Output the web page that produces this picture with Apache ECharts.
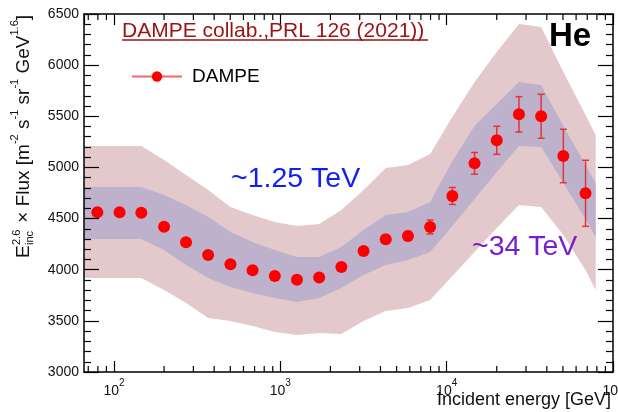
<!DOCTYPE html>
<html><head><meta charset="utf-8">
<script src="https://cdn.jsdelivr.net/npm/echarts@6/dist/echarts.min.js"></script>
<style>html,body{margin:0;padding:0;background:#fff}#c{width:618px;height:412px}</style>
</head><body><div id="c"></div>
<script>
// ---- data ----
const energies = [79.4,108,146,200,271,368,501,681,926,1259,1712,2328,3165,4303,5851,7956,10818,14710,20002,27197,36981,50285,68375];
const flux     = [4561,4561,4557,4420,4268,4144,4053,3994,3939,3903,3923,4027,4183,4297,4330,4418,4721,5040,5265,5519,5500,5112,4747];
const fluxErr  = [20,20,20,20,20,20,20,20,20,20,25,30,35,40,45,68,83,106,137,173,215,261,323];
const bandEnergies = [66,79.4,108,146,200,271,368,501,681,926,1259,1712,2328,3165,4303,5851,7956,10818,14710,20002,27197,36981,50285,68375,78700];
const outerTop = [5210,5210,5210,5210,5073,4926,4779,4613,4535,4467,4427,4447,4584,4779,4994,5023,5131,5493,5835,6129,6402,6373,5933,5513,5317];
const outerBot = [3919,3919,3919,3919,3802,3675,3528,3499,3450,3391,3362,3381,3372,3499,3597,3626,3704,3939,4173,4408,4633,4613,4340,3997,3802];
const innerTop = [4809,4809,4809,4809,4731,4633,4516,4369,4271,4193,4124,4124,4222,4388,4535,4564,4662,5063,5405,5620,5835,5806,5405,5023,4848];
const innerBot = [4300,4300,4300,4300,4193,4046,3919,3831,3773,3724,3685,3724,3822,3948,4046,4095,4173,4427,4691,4955,5210,5200,4848,4496,4320];
const yTickValues = [3000,3500,4000,4500,5000,5500,6000,6500];
const xMinorTicks = [70,80,90,200,300,400,500,600,700,800,900,2000,3000,4000,5000,6000,7000,8000,9000,20000,30000,40000,50000,60000,70000,80000,90000];
const Y_MIN = 3000, Y_MAX = 6500, Y_STEP = 500, X_MIN = 66, X_MAX = 100000;

// ---- chart ----
const chart = echarts.init(document.getElementById('c'));
const FONT = 'Liberation Sans, Arial, sans-serif';
const tickStyle = {stroke: '#000', lineWidth: 1.2};

const xLabelFmt = v => {
  const l = Math.log10(v), e = Math.round(l);
  if (Math.abs(l - e) > 1e-6) return '';
  return '{b|10}{s|' + e + '}';
};

function bandSeries(name, top, bot, color, z) {
  return {
    type: 'custom', name, z, silent: true, clip: true,
    data: bandEnergies.map((e, i) => [e, bot[i], top[i]]),
    encode: {x: 0, y: [1, 2]},
    renderItem: (p, api) => {
      if (p.dataIndex !== 0) return null;
      const upper = bandEnergies.map((e, i) => api.coord([e, top[i]]));
      const lower = bandEnergies.map((e, i) => api.coord([e, bot[i]])).reverse();
      return {type: 'polygon', shape: {points: upper.concat(lower)}, style: {fill: color}};
    }
  };
}

const option = {
  animation: false,
  textStyle: {fontFamily: FONT},
  grid: {left: 84, right: 5, top: 14, bottom: 40, outerBoundsMode: 'none', containLabel: false},
  legend: {
    data: ['DAMPE'], left: 126, top: 62, itemWidth: 50, itemHeight: 13, itemGap: 8,
    textStyle: {fontSize: 19, color: '#000', fontFamily: FONT, padding: [0, 0, 0, 5]},
    lineStyle: {width: 2, color: '#f06868', opacity: 1},
    selectedMode: false
  },
  xAxis: [{
    type: 'log', min: X_MIN, max: X_MAX, position: 'bottom', z: 10,
    axisLine: {lineStyle: {color: '#000', width: 1.5}},
    axisTick: {show: true, inside: true, length: 11, lineStyle: {color: '#000', width: 1.2}},
    splitLine: {show: false},
    axisLabel: {formatter: xLabelFmt, margin: 6, color: '#000', showMinLabel: false,
      rich: {b: {fontSize: 14, fontFamily: FONT, color: '#111', lineHeight: 20, verticalAlign: 'bottom'},
             s: {fontSize: 10, fontFamily: FONT, color: '#111', lineHeight: 12, verticalAlign: 'top'}}}
  }, {
    type: 'log', min: X_MIN, max: X_MAX, position: 'top', z: 10,
    axisLine: {show: true, lineStyle: {color: '#000', width: 1.5}},
    axisTick: {show: true, inside: true, length: 11, lineStyle: {color: '#000', width: 1.2}},
    splitLine: {show: false}, axisLabel: {show: false}
  }],
  yAxis: [{
    type: 'value', min: Y_MIN, max: Y_MAX, interval: Y_STEP, position: 'left', z: 10,
    axisLine: {show: true, lineStyle: {color: '#000', width: 1.5}},
    axisTick: {show: true, inside: true, length: 15, lineStyle: {color: '#000', width: 1.2}},
    minorTick: {show: true, splitNumber: 5, length: 7, lineStyle: {color: '#000', width: 1.2}},
    splitLine: {show: false},
    axisLabel: {fontSize: 14, color: '#111', margin: 5, fontFamily: FONT,
      formatter: v => yTickValues.includes(v) ? String(v) : ''}
  }, {
    type: 'value', min: Y_MIN, max: Y_MAX, interval: Y_STEP, position: 'right', z: 10,
    axisLine: {show: true, lineStyle: {color: '#000', width: 1.5}},
    axisTick: {show: true, inside: true, length: 15, lineStyle: {color: '#000', width: 1.2}},
    minorTick: {show: true, splitNumber: 5, length: 7, lineStyle: {color: '#000', width: 1.2}},
    splitLine: {show: false}, axisLabel: {show: false}
  }],
  series: [
    bandSeries('outerBand', outerTop, outerBot, '#e3c9cb', 1),
    bandSeries('innerBand', innerTop, innerBot, '#bdb1cc', 2),
    {type: 'custom', name: 'errors', z: 3, silent: true,
     data: energies.map((e, i) => [e, flux[i] - fluxErr[i], flux[i] + fluxErr[i]]),
     encode: {x: 0, y: [1, 2]},
     renderItem: (p, api) => {
       const lo = api.coord([api.value(0), api.value(1)]);
       const hi = api.coord([api.value(0), api.value(2)]);
       const w = 3.5, st = {stroke: '#e0353a', lineWidth: 1.5};
       return {type: 'group', children: [
         {type: 'line', shape: {x1: lo[0], y1: lo[1], x2: hi[0], y2: hi[1]}, style: st},
         {type: 'line', shape: {x1: lo[0] - w, y1: lo[1], x2: lo[0] + w, y2: lo[1]}, style: st},
         {type: 'line', shape: {x1: hi[0] - w, y1: hi[1], x2: hi[0] + w, y2: hi[1]}, style: st}
       ]};
     }},
    {type: 'line', name: 'DAMPE', data: energies.map((e, i) => [e, flux[i]]), symbol: 'circle', symbolSize: 12, showSymbol: true,
     itemStyle: {color: '#ff0000'}, lineStyle: {width: 0, opacity: 0}, z: 4},
    {type: 'custom', name: 'minorTicks', z: 10, silent: true,
     data: xMinorTicks.map(v => [v, Y_MIN]), encode: {x: 0, y: 1},
     renderItem: (p, api) => {
       const b = api.coord([api.value(0), Y_MIN]);
       const t = api.coord([api.value(0), Y_MAX]);
       return {type: 'group', children: [
         {type: 'line', shape: {x1: b[0], y1: b[1], x2: b[0], y2: b[1] - 6}, style: tickStyle},
         {type: 'line', shape: {x1: t[0], y1: t[1], x2: t[0], y2: t[1] + 6}, style: tickStyle}
       ]};
     }}
  ],
  graphic: [
    {type: 'text', left: 122, top: 21, z: 20,
     style: {text: 'DAMPE collab.,PRL 126 (2021))', fontSize: 21, fill: '#9b1212', fontFamily: FONT}},
    {type: 'line', z: 20, shape: {x1: 122, y1: 40, x2: 428, y2: 40}, style: {stroke: '#9b1212', lineWidth: 1.6}},
    {type: 'text', left: 549, top: 20, z: 20,
     style: {text: 'He', fontSize: 33, fontWeight: 'bold', fill: '#000', fontFamily: FONT}},
    {type: 'text', left: 231, top: 165, z: 20,
     style: {text: '~1.25 TeV', fontSize: 28.5, fill: '#1020f5', fontFamily: FONT}},
    {type: 'text', left: 472, top: 233, z: 20,
     style: {text: '~34 TeV', fontSize: 28.5, fill: '#7a1fc6', fontFamily: FONT}},
    {type: 'text', right: 7, top: 391, z: 20,
     style: {text: 'Incident energy [GeV]', fontSize: 18, fill: '#111', fontFamily: FONT}},
    {type: 'group', x: 33, y: 258, rotation: Math.PI / 2, z: 20, children: [
      {type: 'text', x: 0, y: 0, style: {text: 'E', fontSize: 19, fill: '#111', fontFamily: FONT, textAlign: 'left', textVerticalAlign: 'bottom'}},
      {type: 'text', x: 13, y: -11, style: {text: '2.6', fontSize: 11, fill: '#111', fontFamily: FONT, textAlign: 'left', textVerticalAlign: 'bottom'}},
      {type: 'text', x: 13, y: 2, style: {text: 'inc', fontSize: 11, fill: '#111', fontFamily: FONT, textAlign: 'left', textVerticalAlign: 'bottom'}},
      {type: 'text', x: 30, y: 0, style: {
        text: '{n| × Flux [m}{s|-2}{n| s}{s|-1}{n| sr}{s|-1}{n| GeV}{s|1.6}{n|]}',
        textAlign: 'left', textVerticalAlign: 'bottom', fill: '#111',
        rich: {n: {fontSize: 19, fontFamily: FONT, fill: '#111', lineHeight: 24, verticalAlign: 'bottom'},
               s: {fontSize: 11, fontFamily: FONT, fill: '#111', lineHeight: 12, verticalAlign: 'top'}}}}
    ]}
  ]
};
chart.setOption(option);
</script>
</body></html>
